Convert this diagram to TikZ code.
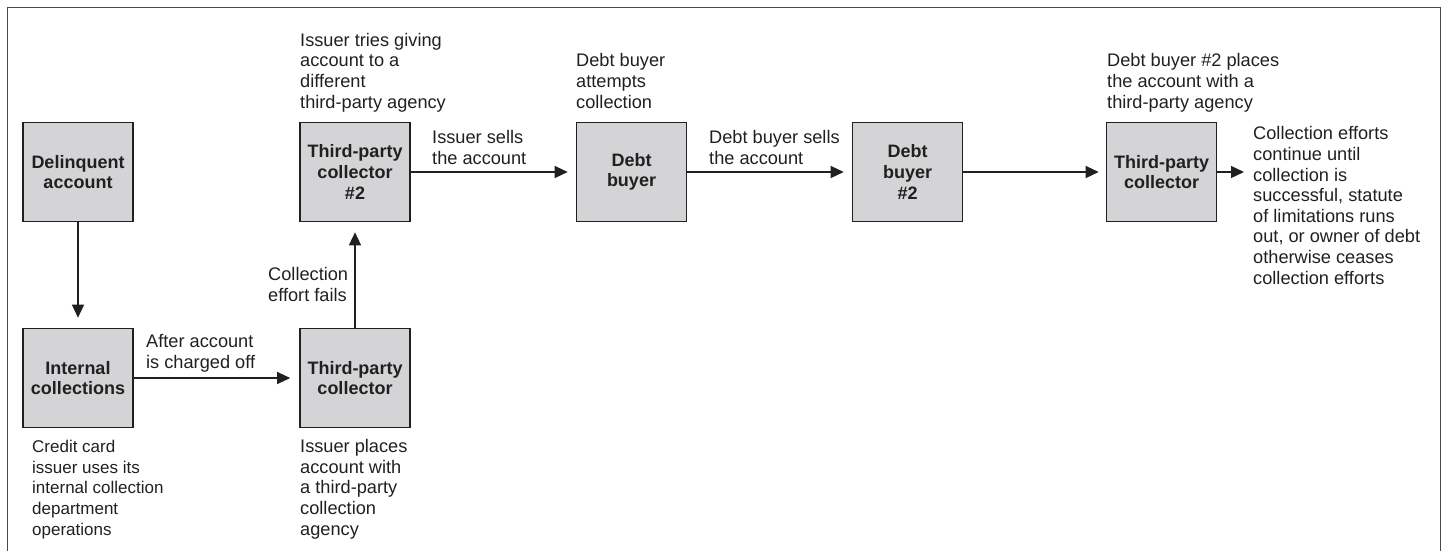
\documentclass[tikz,border=0pt]{standalone}
\usepackage{fontspec}
\setmainfont{Liberation Sans}
\usetikzlibrary{arrows.meta}
\definecolor{ink}{HTML}{231F20}
\definecolor{boxfill}{HTML}{D4D4D6}
\definecolor{framec}{HTML}{4A4A4A}
\begin{document}
\begin{tikzpicture}[x=1pt,y=-1pt,
  stagebox/.style={draw=ink,line width=1.6pt,fill=boxfill,minimum width=110pt,minimum height=99pt,
    inner sep=0pt,align=center,text=ink,font={\fontsize{18}{20.6}\selectfont\bfseries}},
  note/.style={anchor=base west,align=left,inner sep=0pt,text=ink,font={\fontsize{18.2}{20.6}\selectfont}},
  smallnote/.style={note,font={\fontsize{17}{20.6}\selectfont}},
  flow/.style={draw=ink,line width=1.3pt,-{Triangle[length=13pt,width=12pt]}}]
\useasboundingbox (0,0) rectangle (1447,550);
\draw[framec,line width=1.6pt] (7.5,7.5) rectangle (1440.5,570);
% boxes
\node[stagebox] (del) at (78,172) {Delinquent\\account};
\node[stagebox] (int) at (78,378) {Internal\\collections};
\node[stagebox] (tpa) at (355,378) {Third-party\\collector};
\node[stagebox] (tpb) at (355,172) {Third-party\\collector\\\#2};
\node[stagebox] (dba) at (631.5,172) {Debt\\buyer};
\node[stagebox] (dbb) at (907.5,172) {Debt\\buyer\\\#2};
\node[stagebox] (tpc) at (1161.5,172) {Third-party\\collector};
\coordinate (endc) at (1244,172);
% connectors
\draw[flow,shorten >=10pt] (del) -- (int);
\draw[flow,shorten >=9pt] (int) -- (tpa);
\draw[flow,shorten >=10pt] (tpa) -- (tpb);
\draw[flow,shorten >=8pt] (tpb) -- (dba);
\draw[flow,shorten >=8pt] (dba) -- (dbb);
\draw[flow,shorten >=7pt] (dbb) -- (tpc);
\draw[flow] (tpc) -- (endc);
% notes (anchored at the baseline of their last line)
\node[note] (n1) at (300,108) {Issuer tries giving\\account to a\\different\\third-party agency};
\node[note] (n2) at (576,108) {Debt buyer\\attempts\\collection};
\node[note] (n3) at (1107,108) {Debt buyer \#2 places\\the account with a\\third-party agency};
\node[note] (n4) at (432,164) {Issuer sells\\the account};
\node[note] (n5) at (709,164) {Debt buyer sells\\the account};
\node[note] (n6) at (1253,284) {Collection efforts\\continue until\\collection is\\successful, statute\\of limitations runs\\out, or owner of debt\\otherwise ceases\\collection efforts};
\node[note] (n7) at (146,368) {After account\\is charged off};
\node[note] (n8) at (268,301) {Collection\\effort fails};
\node[smallnote] (n9) at (32,535) {Credit card\\issuer uses its\\internal collection\\department\\operations};
\node[note] (n10) at (300,535) {Issuer places\\account with\\a third-party\\collection\\agency};
\end{tikzpicture}
\end{document}
